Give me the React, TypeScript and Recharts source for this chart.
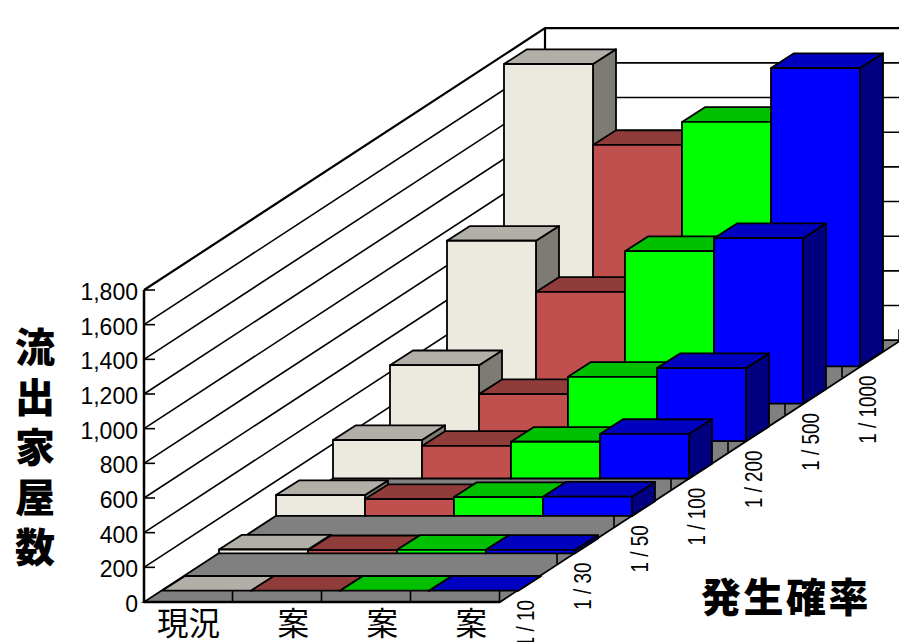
import { BarChart, Bar, XAxis, YAxis, CartesianGrid } from "recharts";

const CATEGORIES = ["現況", "\u3000案", "\u3000案", "\u3000案"];
const PROBABILITIES = ["1 / 10", "1 / 30", "1 / 50", "1 / 100", "1 / 200", "1 / 500", "1 / 1000"];

const VALUES_10 = [0, 0, 0, 0];
const VALUES_30 = [22, 18, 20, 20];
const VALUES_50 = [120, 97, 109, 111];
const VALUES_100 = [222, 188, 212, 257];
const VALUES_200 = [438, 271, 371, 421];
const VALUES_500 = [940, 645, 880, 955];
const VALUES_1000 = [1744, 1277, 1410, 1721];
const SERIES = [VALUES_10, VALUES_30, VALUES_50, VALUES_100, VALUES_200, VALUES_500, VALUES_1000];

const Y_TICKS = [0, 200, 400, 600, 800, 1000, 1200, 1400, 1600, 1800];

const FRONT = ["#ECE9DF", "#C0504D", "#00FF00", "#0000FF"];
const TOP = ["#B1AFA7", "#903C3A", "#00C000", "#0000C0"];
const SIDE = ["#7D7B73", "#602826", "#008000", "#000080"];

// oblique projection: one depth slot shifts this far right and up
const SLOT_DX = 57;
const SLOT_DY = 37.4;
const GAP_DX = 18;
const GAP_DY = 11.3;
const BAR_DX = 23;
const BAR_DY = 14.7;
const SLOTS = PROBABILITIES.length;
const WALL_DX = 401;
const WALL_DY = SLOT_DY * SLOTS;

const rows = CATEGORIES.map((name, i) => {
  const row: Record<string, string | number> = { name };
  SERIES.forEach((values, depth) => {
    row[`d${depth}`] = values[i];
  });
  return row;
});

const pts = (list: number[][]) => list.map((p) => p.join(",")).join(" ");

function Box3D(props: any) {
  const { x, y, width, height, index, depth } = props;
  const left = x + SLOT_DX * depth + GAP_DX;
  const right = left + width;
  const top = y - SLOT_DY * depth - GAP_DY;
  const bottom = top + height;
  const line = { stroke: "#000", strokeWidth: 1.8, strokeLinejoin: "round" as const };
  return (
    <g>
      <polygon
        points={pts([
          [right, top],
          [right + BAR_DX, top - BAR_DY],
          [right + BAR_DX, bottom - BAR_DY],
          [right, bottom],
        ])}
        fill={SIDE[index]}
        {...line}
      />
      <polygon
        points={pts([
          [left, top],
          [left + BAR_DX, top - BAR_DY],
          [right + BAR_DX, top - BAR_DY],
          [right, top],
        ])}
        fill={TOP[index]}
        {...line}
      />
      <rect x={left} y={top} width={width} height={height} fill={FRONT[index]} {...line} />
    </g>
  );
}

// each grid line runs along the side wall and then across the back wall
function WallLine(props: any) {
  const { x1, x2, y1 } = props;
  const isFloor = Math.abs(y1 - 602) < 1;
  const isTop = Math.abs(y1 - 290) < 1;
  const width = x2 - x1;
  const band = width / CATEGORIES.length;
  if (isFloor) {
    return (
      <g>
        <polygon
          points={pts([
            [x1, y1],
            [x2, y1],
            [x2 + WALL_DX, y1 - WALL_DY],
            [x1 + WALL_DX, y1 - WALL_DY],
          ])}
          fill="#808080"
          stroke="#000"
          strokeWidth={1.8}
        />
        {CATEGORIES.map((_, i) => (
          <line
            key={i}
            x1={x1 + band * (i + 1) - 0.5}
            x2={x1 + band * (i + 1) - 0.5}
            y1={y1}
            y2={y1 - 11}
            stroke="#000"
            strokeWidth={1.6}
          />
        ))}
        {PROBABILITIES.map((_, k) => (
          <line
            key={k}
            x1={x2 + SLOT_DX * (k + 1)}
            x2={x2 + SLOT_DX * (k + 1)}
            y1={y1 - SLOT_DY * (k + 1)}
            y2={y1 - SLOT_DY * (k + 1) - 11}
            stroke="#000"
            strokeWidth={1.6}
          />
        ))}
      </g>
    );
  }
  return (
    <g>
      <polyline
        points={pts([
          [x1, y1],
          [x1 + WALL_DX, y1 - WALL_DY],
          [x2 + WALL_DX, y1 - WALL_DY],
        ])}
        fill="none"
        stroke="#000"
        strokeWidth={isTop ? 2.2 : 1.6}
      />
      <line x1={x1} x2={x1 + 11} y1={y1} y2={y1} stroke="#000" strokeWidth={1.6} />
      {isTop && (
        <line
          x1={x1 + WALL_DX}
          x2={x1 + WALL_DX}
          y1={y1 - WALL_DY}
          y2={602 - WALL_DY}
          stroke="#000"
          strokeWidth={2.2}
        />
      )}
    </g>
  );
}

const HEAVY = "'Noto Sans CJK JP', sans-serif";
const LATIN = "'Liberation Sans', Arial, sans-serif";
const Y_TITLE = ["流", "出", "家", "屋", "数"];

export default function App() {
  return (
    <div style={{ position: "absolute", left: 0, top: 0, width: 899, height: 642, background: "#fff" }}>
      <BarChart
        width={899}
        height={642}
        data={rows}
        margin={{ top: 290, right: 399, bottom: 0, left: 0 }}
        barCategoryGap={0}
        barGap="-100%"
      >
        <CartesianGrid horizontal={(p: any) => <WallLine key={p.key} {...p} />} vertical={false} />
        <XAxis
          dataKey="name"
          height={40}
          interval={0}
          tickLine={false}
          tickMargin={5}
          axisLine={{ stroke: "#000", strokeWidth: 2.5 }}
          tick={{ fontSize: 31.5, fill: "#000", fontFamily: HEAVY }}
        />
        <YAxis
          width={144}
          domain={[0, 1800]}
          ticks={Y_TICKS}
          interval={0}
          tickLine={false}
          tickMargin={0}
          tickFormatter={(v: number) => v.toLocaleString("en-US")}
          axisLine={{ stroke: "#000", strokeWidth: 2.5 }}
          tick={{ fontSize: 23, fill: "#000", fontFamily: LATIN, dy: 2 }}
        />
        {SERIES.map((_, depth) => SERIES.length - 1 - depth).map((depth) => (
          <Bar
            key={depth}
            dataKey={`d${depth}`}
            isAnimationActive={false}
            shape={(p: any) => <Box3D {...p} depth={depth} />}
          />
        ))}
        {PROBABILITIES.map((label, k) => (
          <text
            key={label}
            transform={`translate(${533.5 + 57.1 * k},${600 - 37.4 * k}) rotate(-90) scale(0.77,1)`}
            textAnchor="end"
            fontSize={24.5}
            fontFamily={LATIN}
            fill="#000"
          >
            {label}
          </text>
        ))}
        {Y_TITLE.map((ch, i) => (
          <text
            key={ch}
            x={35}
            y={362 + i * 50}
            textAnchor="middle"
            fontSize={40}
            fontWeight={900}
            fontFamily={HEAVY}
            fill="#000"
          >
            {ch}
          </text>
        ))}
        <text
          x={786}
          y={612}
          textAnchor="middle"
          fontSize={40}
          fontWeight={900}
          letterSpacing={2.5}
          fontFamily={HEAVY}
          fill="#000"
        >
          発生確率
        </text>
      </BarChart>
    </div>
  );
}
